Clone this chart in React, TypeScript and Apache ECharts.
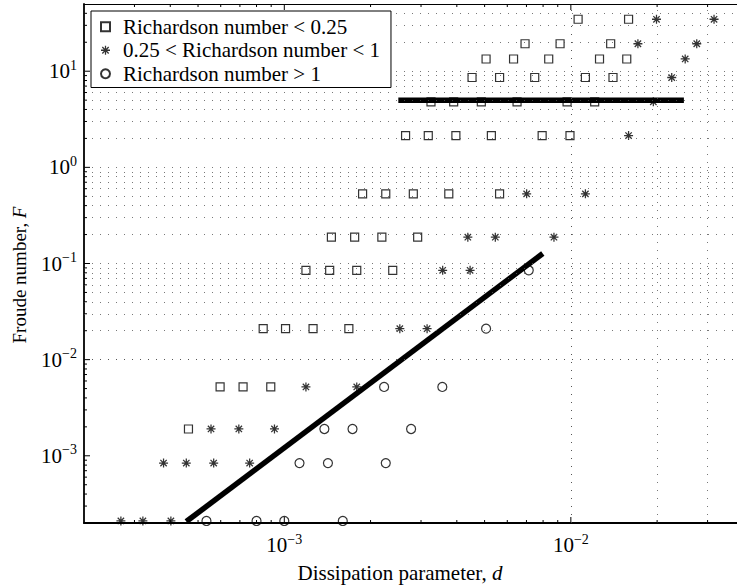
import React, { useEffect, useRef } from "react";
import * as echarts from "echarts";

// ---- data ----
const lowRi: [number, number][] = [
  [0.0106, 34.7], [0.0159, 34.7],
  [0.00692, 19.3], [0.00917, 19.3], [0.01377, 19.3],
  [0.00506, 13.4], [0.00631, 13.4], [0.00837, 13.4], [0.01259, 13.4], [0.01567, 13.4],
  [0.00452, 8.6], [0.00564, 8.6], [0.00748, 8.6], [0.01124, 8.6], [0.01403, 8.6],
  [0.00325, 4.8], [0.0039, 4.8], [0.00487, 4.8], [0.00649, 4.8], [0.0097, 4.8], [0.01211, 4.8],
  [0.00265, 2.14], [0.00318, 2.14], [0.00397, 2.14], [0.00528, 2.14], [0.00794, 2.14], [0.00993, 2.14],
  [0.001876, 0.53], [0.00226, 0.53], [0.00282, 0.53], [0.00375, 0.53], [0.00564, 0.53],
  [0.00146, 0.188], [0.00176, 0.188], [0.00219, 0.188], [0.00292, 0.188],
  [0.00119, 0.085], [0.00144, 0.085], [0.00179, 0.085], [0.00239, 0.085],
  [0.000844, 0.021], [0.00101, 0.021], [0.00126, 0.021], [0.00168, 0.021],
  [0.000597, 0.0052], [0.000718, 0.0052], [0.000897, 0.0052],
  [0.000463, 0.0019],
];

const midRi: [number, number][] = [
  [0.0199, 34.7], [0.0316, 34.7],
  [0.01714, 19.3], [0.0275, 19.3],
  [0.02506, 13.4],
  [0.02249, 8.6],
  [0.0194, 4.8],
  [0.0159, 2.14],
  [0.00701, 0.53], [0.01124, 0.53],
  [0.00437, 0.188], [0.00545, 0.188], [0.00873, 0.188],
  [0.00357, 0.085], [0.00445, 0.085],
  [0.00253, 0.021], [0.00315, 0.021],
  [0.00119, 0.0052], [0.00179, 0.0052],
  [0.000555, 0.0019], [0.000694, 0.0019], [0.000924, 0.0019],
  [0.000379, 0.00084], [0.000455, 0.00084], [0.000567, 0.00084], [0.000757, 0.00084],
  [0.000269, 0.00021], [0.000321, 0.00021], [0.000402, 0.00021],
];

const highRi: [number, number][] = [
  [0.00713, 0.085],
  [0.00506, 0.021],
  [0.00223, 0.0052], [0.00356, 0.0052],
  [0.00138, 0.0019], [0.00173, 0.0019], [0.00277, 0.0019],
  [0.00113, 0.00084], [0.00142, 0.00084], [0.00226, 0.00084],
  [0.000535, 0.00021], [0.0008, 0.00021], [0.001, 0.00021], [0.0016, 0.00021],
];

const slopeLine: [number, number][] = [
  [0.000455, 0.000207],
  [0.00798, 0.127],
];

const flatLine: [number, number][] = [
  [0.0025, 5],
  [0.0248, 5],
];

const seriesNames = [
  "Richardson number < 0.25",
  "0.25 < Richardson number < 1",
  "Richardson number > 1",
];

const X_MIN = 2e-4;
const X_MAX = 0.038;
const Y_MIN = 2e-4;
const Y_MAX = 50;

const FONT = "'Liberation Serif', 'Times New Roman', serif";

const STAR =
  "path://M0 8.6H20V11.4H0Z M8.6 0H11.4V20H8.6Z M1.94 3.92L3.92 1.94L18.06 16.08L16.08 18.06Z M1.94 16.08L16.08 1.94L18.06 3.92L3.92 18.06Z";

function gridValues(lo: number, hi: number): number[] {
  const out: number[] = [];
  for (let e = -5; e <= 2; e++) {
    for (let m = 1; m <= 9; m++) {
      const v = m * Math.pow(10, e);
      if (v > lo * 1.0001 && v < hi * 0.9999) out.push(v);
    }
  }
  return out;
}

const xGrid = gridValues(X_MIN, X_MAX);
const yGrid = gridValues(Y_MIN, Y_MAX);

function isDecade(v: number) {
  const e = Math.log10(v);
  return Math.abs(e - Math.round(e)) < 1e-6;
}

function powLabel(v: number) {
  const e = Math.log10(v);
  const r = Math.round(e);
  if (Math.abs(e - r) > 1e-6) return "";
  const exp = r < 0 ? "\u2212" + -r : String(r);
  return "{b|10}{s|" + exp + "}";
}

const labelRich = {
  b: { fontFamily: FONT, fontSize: 21, color: "#000" },
  s: { fontFamily: FONT, fontSize: 14, color: "#000", padding: [0, 0, 12, 0] },
};

export default function App() {
  const ref = useRef<HTMLDivElement>(null);

  useEffect(() => {
    if (!ref.current) return;
    const chart = echarts.init(ref.current, undefined, { renderer: "svg" });

    const gridLineStyle = { color: "#555", width: 0.8, type: [1, 7] as any };

    const option: any = {
      animation: false,
      backgroundColor: "#fff",
      grid: { left: 84, right: 0, top: 4, bottom: 64, containLabel: false, outerBoundsMode: "none" },
      xAxis: [
        {
          type: "log",
          logBase: 10,
          min: X_MIN,
          max: X_MAX,
          position: "bottom",
          axisLine: { show: true, onZero: false, lineStyle: { color: "#000", width: 1.8 } },
          axisTick: { show: false },
          splitLine: { show: false },
          axisLabel: { formatter: powLabel, margin: 9, rich: labelRich, color: "#000" },
        },
        {
          type: "log",
          logBase: 10,
          min: X_MIN,
          max: X_MAX,
          position: "top",
          axisLine: { show: true, onZero: false, lineStyle: { color: "#000", width: 1 } },
          axisTick: { show: false },
          splitLine: { show: false },
          axisLabel: { show: false },
        },
      ],
      yAxis: {
        type: "log",
        logBase: 10,
        min: Y_MIN,
        max: Y_MAX,
        axisLine: { show: true, onZero: false, lineStyle: { color: "#000", width: 1.8 } },
        axisTick: { show: false },
        splitLine: { show: false },
        axisLabel: { formatter: powLabel, margin: 7, rich: labelRich, color: "#000" },
      },
      legend: {
        data: seriesNames,
        orient: "vertical",
        left: 91,
        top: 11,
        itemWidth: 9,
        itemHeight: 9,
        itemGap: 0,
        padding: [4, 11, 2, 9],
        backgroundColor: "#fff",
        borderColor: "#000",
        borderWidth: 1,
        borderRadius: 0,
        selectedMode: false,
        z: 10,
        textStyle: {
          fontFamily: FONT,
          fontSize: 21,
          color: "#000",
          lineHeight: 23.5,
          padding: [0, 0, 0, 8],
        },
      },
      series: [
        {
          name: "grid",
          type: "line",
          data: [],
          z: 1,
          silent: true,
          markLine: {
            silent: true,
            symbol: ["none", "none"],
            label: { show: false },
            lineStyle: gridLineStyle,
            emphasis: { disabled: true },
            data: [
              ...xGrid.map((v) => ({ xAxis: v })),
              ...yGrid.map((v) => ({ yAxis: v })),
            ],
          },
        },
        {
          name: seriesNames[0],
          type: "scatter",
          data: lowRi,
          symbol: "rect",
          symbolSize: 8,
          clip: false,
          z: 3,
          itemStyle: { color: "rgba(0,0,0,0)", borderColor: "#000", borderWidth: 1.2 },
        },
        {
          name: seriesNames[1],
          type: "scatter",
          data: midRi,
          symbol: STAR,
          symbolSize: 9,
          clip: false,
          z: 3,
          itemStyle: { color: "#000" },
        },
        {
          name: seriesNames[2],
          type: "scatter",
          data: highRi,
          symbol: "circle",
          symbolSize: 9,
          clip: false,
          z: 3,
          itemStyle: { color: "rgba(0,0,0,0)", borderColor: "#000", borderWidth: 1.2 },
        },
        {
          name: "slope",
          type: "line",
          data: slopeLine,
          symbol: "none",
          z: 4,
          lineStyle: { color: "#000", width: 5.5, cap: "butt" },
        },
        {
          name: "flat",
          type: "line",
          data: flatLine,
          symbol: "none",
          z: 4,
          lineStyle: { color: "#000", width: 5.5, cap: "butt" },
        },
        {
          name: "ticks",
          type: "custom",
          data: [[1e-3, 1]],
          clip: false,
          z: 5,
          silent: true,
          renderItem: (_params: any, api: any) => {
            const children: any[] = [];
            const L = (x1: number, y1: number, x2: number, y2: number) =>
              children.push({
                type: "line",
                shape: { x1, y1, x2, y2 },
                style: { stroke: "#000", lineWidth: 1 },
              });
            xGrid.forEach((v) => {
              const len = isDecade(v) ? 6 : 3;
              const b = api.coord([v, Y_MIN]);
              const t = api.coord([v, Y_MAX]);
              L(b[0], b[1], b[0], b[1] - len);
              L(t[0], t[1], t[0], t[1] + len);
            });
            yGrid.forEach((v) => {
              const len = isDecade(v) ? 6 : 3;
              const p = api.coord([X_MIN, v]);
              L(p[0], p[1], p[0] + len, p[1]);
            });
            return { type: "group", children };
          },
        },
      ],
      graphic: [
        {
          type: "text",
          x: 400,
          y: 573,
          style: {
            text: "{n|Dissipation parameter, }{i|d}",
            rich: {
              n: { fontFamily: FONT, fontSize: 21, fill: "#000", color: "#000" },
              i: { fontFamily: FONT, fontSize: 21, fontStyle: "italic", fill: "#000", color: "#000" },
            },
            align: "center",
            verticalAlign: "middle",
            textAlign: "center",
            textVerticalAlign: "middle",
          },
        },
        {
          type: "text",
          x: 19,
          y: 275,
          rotation: Math.PI / 2,
          style: {
            text: "{n|Froude number, }{i|F}",
            rich: {
              n: { fontFamily: FONT, fontSize: 19, fill: "#000", color: "#000" },
              i: { fontFamily: FONT, fontSize: 19, fontStyle: "italic", fill: "#000", color: "#000" },
            },
            align: "center",
            verticalAlign: "middle",
            textAlign: "center",
            textVerticalAlign: "middle",
          },
        },
      ],
    };

    chart.setOption(option);
    return () => chart.dispose();
  }, []);

  return (
    <div
      ref={ref}
      style={{ position: "absolute", left: 0, top: 0, width: 737, height: 587, background: "#fff" }}
    />
  );
}
